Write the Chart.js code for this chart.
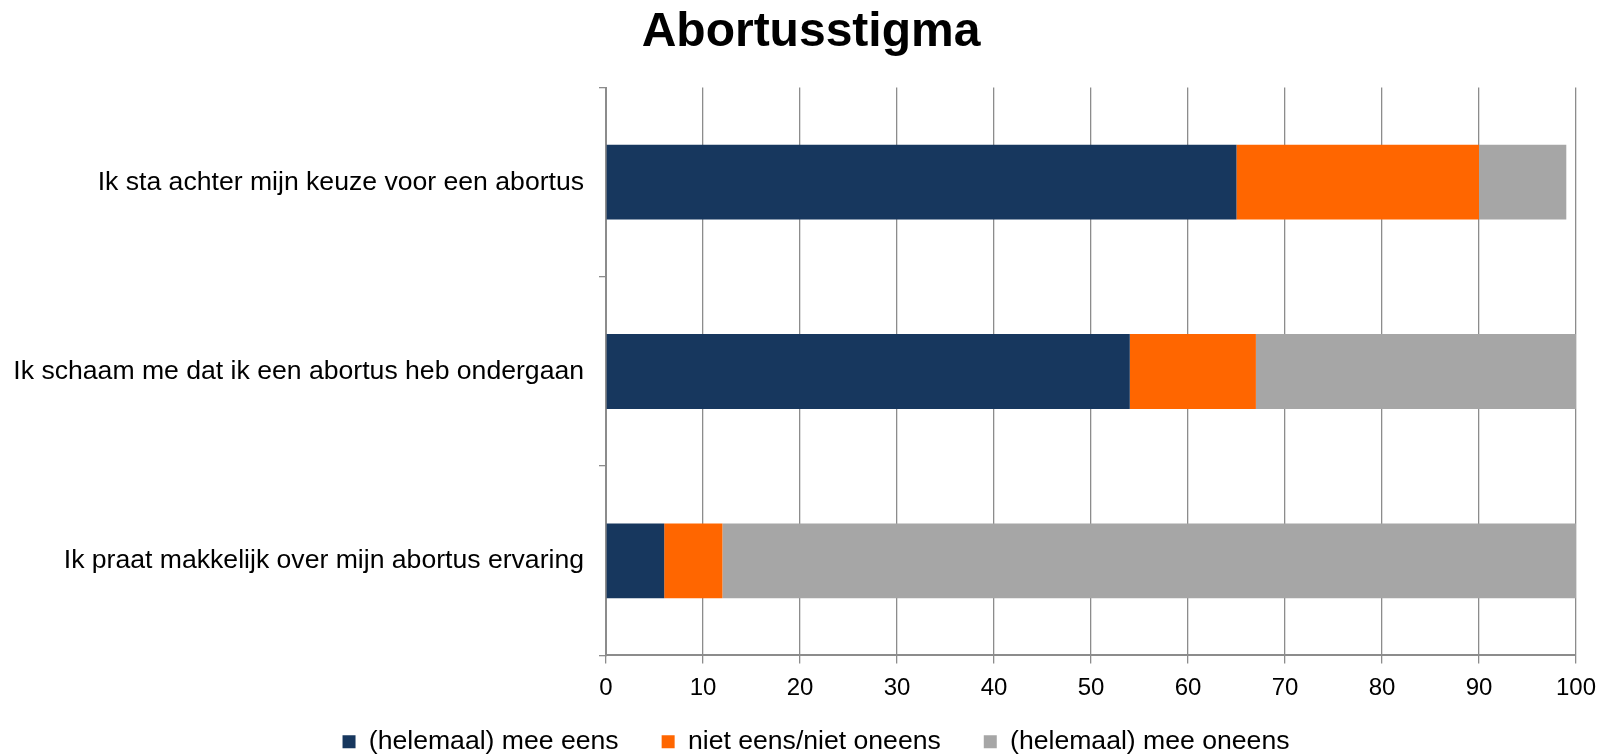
<!DOCTYPE html>
<html>
<head>
<meta charset="utf-8">
<script src="https://cdn.jsdelivr.net/npm/chart.js@4/dist/chart.umd.min.js"></script>
<style>
  html, body { margin: 0; padding: 0; background: #fff; }
  canvas { display: block; }
</style>
</head>
<body>
<canvas id="c" width="1612" height="755"></canvas>
<script>
const categories = [
  "Ik sta achter mijn keuze voor een abortus",
  "Ik schaam me dat ik een abortus heb ondergaan",
  "Ik praat makkelijk over mijn abortus ervaring"
];
const seriesNames = ["(helemaal) mee eens", "niet eens/niet oneens", "(helemaal) mee oneens"];
const meeEens = [65, 54, 6];
const neutraal = [25, 13, 6];
const meeOneens = [9, 33, 88];
const xTicks = [0, 10, 20, 30, 40, 50, 60, 70, 80, 90, 100];
const colors = ["#17375E", "#FF6600", "#A6A6A6"];

const FONT = "'Liberation Sans', Arial, sans-serif";
const GRID = "#8C8C8C";

const boxShift = {
  id: 'boxShift',
  beforeDraw(chart) {
    const lg = chart.legend;
    if (lg) { lg.top -= 18; lg.bottom -= 18; lg.left += 10; lg.right += 10; }
    const tb = chart.titleBlock;
    if (tb) { tb.left += 5; tb.right += 5; }
  }
};

new Chart(document.getElementById('c'), {
  type: 'bar',
  data: {
    labels: categories,
    datasets: [
      { label: seriesNames[0], data: meeEens, backgroundColor: colors[0] },
      { label: seriesNames[1], data: neutraal, backgroundColor: colors[1] },
      { label: seriesNames[2], data: meeOneens, backgroundColor: colors[2] }
    ].map(d => Object.assign(d, { borderWidth: 0, barPercentage: 0.395, categoryPercentage: 1 }))
  },
  plugins: [boxShift],
  options: {
    indexAxis: 'y',
    responsive: false,
    animation: false,
    layout: { padding: { left: 0, right: 0, top: 0, bottom: -28 } },
    plugins: {
      title: {
        display: true,
        text: 'Abortusstigma',
        color: '#000',
        font: { family: FONT, size: 48, weight: 'bold' },
        padding: { top: 4, bottom: 26 }
      },
      legend: {
        position: 'bottom',
        labels: {
          color: '#000',
          font: { family: FONT, size: 26.6 },
          boxWidth: 13,
          boxHeight: 13,
          padding: 43
        }
      },
      tooltip: { enabled: false }
    },
    scales: {
      x: {
        stacked: true,
        min: 0,
        max: 100,
        afterBuildTicks(s) { s.ticks = xTicks.map(v => ({ value: v })); },
        afterFit(s) { s.height = 48; },
        ticks: { color: '#000', font: { family: FONT, size: 24 }, padding: 11 },
        grid: { color: GRID, lineWidth: 1.3, tickLength: 8 },
        border: { color: GRID, width: 2 }
      },
      y: {
        stacked: true,
        afterFit(s) { s.width = 606; },
        ticks: { color: '#000', font: { family: FONT, size: 26.6 }, padding: 15 },
        grid: { drawOnChartArea: false, color: GRID, lineWidth: 1.3, tickLength: 7 },
        border: { color: GRID, width: 2 }
      },
      yRight: {
        type: 'category',
        position: 'right',
        display: true,
        afterFit(s) { s.width = 36; },
        ticks: { display: false },
        grid: { display: false },
        border: { display: false }
      }
    }
  }
});
</script>
</body>
</html>
